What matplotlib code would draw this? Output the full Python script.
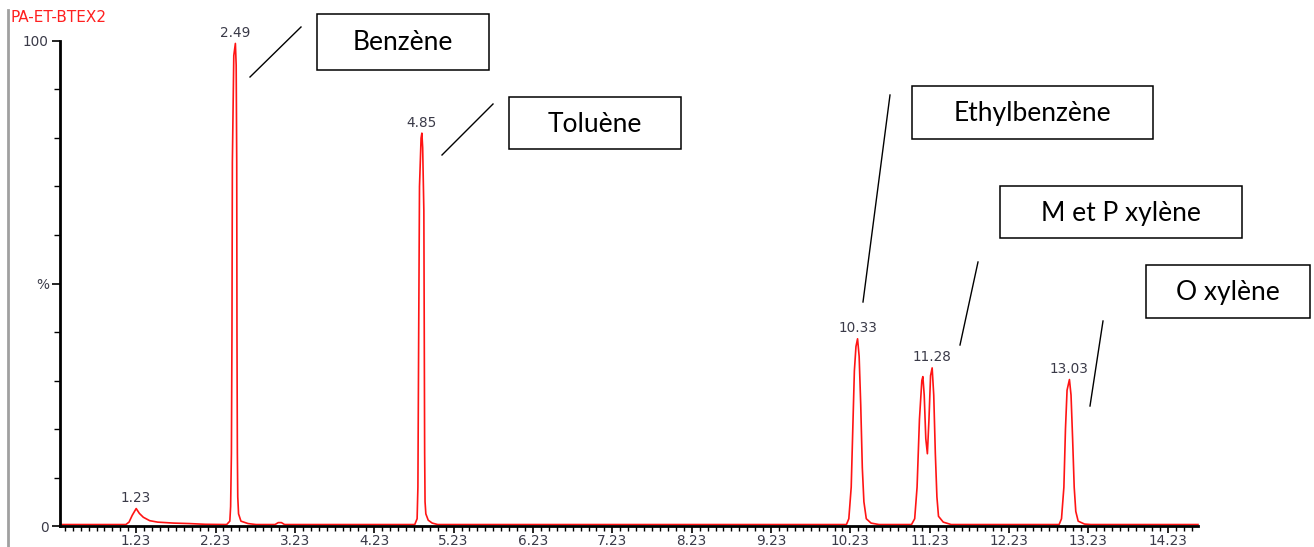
import matplotlib
matplotlib.use("Agg")
import matplotlib.pyplot as plt
from matplotlib.patches import Rectangle
from matplotlib.lines import Line2D
import numpy as np

# trace (retention time in min, intensity in %)
rt = [0.27, 1.10, 1.14, 1.18, 1.23, 1.27, 1.32, 1.40, 1.50, 1.70, 1.90, 2.10, 2.37,
      2.41, 2.42, 2.43, 2.437, 2.442, 2.46, 2.48, 2.49, 2.497, 2.50, 2.505, 2.51, 2.52, 2.55, 2.64, 2.74,
      2.98, 3.02, 3.06, 3.10,
      4.74, 4.77, 4.78, 4.79, 4.80, 4.82, 4.83, 4.84, 4.855, 4.86, 4.865, 4.87, 4.88, 4.91, 4.96, 5.03,
      10.18, 10.21, 10.24, 10.26, 10.28, 10.30, 10.32, 10.34, 10.36, 10.38, 10.40, 10.43, 10.49, 10.59,
      11.00, 11.04, 11.07, 11.10, 11.13, 11.143, 11.16, 11.18, 11.20, 11.22, 11.24, 11.26, 11.28, 11.30,
      11.32, 11.34, 11.40, 11.50,
      12.86, 12.89, 12.92, 12.94, 12.96, 12.99, 13.01, 13.03, 13.05, 13.07, 13.10, 13.18, 13.26, 14.61]
signal = [0.3, 0.3, 0.8, 2.2, 3.6, 2.6, 1.8, 1.1, 0.8, 0.6, 0.5, 0.35, 0.3,
          1.0, 4, 15, 40, 75, 97, 99.5, 95, 75, 40, 15, 6, 2.5, 1, 0.5, 0.3,
          0.3, 0.7, 0.7, 0.3,
          0.3, 1.5, 8, 40, 70, 80, 81, 78, 65, 40, 15, 5, 2.5, 1.2, 0.6, 0.3,
          0.3, 1.5, 8, 20, 32, 37, 38.6, 35, 25, 12, 5, 1.5, 0.6, 0.3,
          0.3, 1.5, 8, 22, 30, 30.8, 27, 18, 14.9, 22, 31, 32.6, 27, 15,
          6, 2, 0.8, 0.3,
          0.3, 1.5, 8, 20, 28, 30.2, 27, 18, 8, 3, 1, 0.4, 0.3, 0.3]

# apex labels printed by the data system
peak_labels = ["1.23", "2.49", "4.85", "10.33", "11.28", "13.03"]

compounds = ["Benzène", "Toluène", "Ethylbenzène", "M et P xylène", "O xylène"]

x_ticks = [1.23, 2.23, 3.23, 4.23, 5.23, 6.23, 7.23, 8.23, 9.23, 10.23, 11.23, 12.23, 13.23, 14.23]
y_ticks = [0, 50, 100]
y_ticklabels = ["0", "%", "100"]

W, H = 1314, 547
fig = plt.figure(figsize=(W / 100, H / 100), dpi=100)

def fx(px):
    return px / W

def fy(py):
    return 1 - py / H

ax = fig.add_axes([fx(60), fy(526), fx(1198) - fx(60), fy(41) - fy(526)])
ax.plot(rt, signal, color="#ff1414", lw=1.2, clip_on=False)
ax.set_xlim(0.27, 14.61)
ax.set_ylim(0, 100)

t_arr = np.array(rt)
s_arr = np.array(signal)
for lab in peak_labels:
    t = float(lab)
    win = np.abs(t_arr - t) < 0.06
    i = np.flatnonzero(win)[np.argmax(s_arr[win])]
    ax.annotate(lab, (t_arr[i], s_arr[i]), xytext=(0, 2.5), textcoords="offset points",
                ha="center", va="bottom", fontsize=9.8, color="#3a3a48",
                family="DejaVu Sans")

for s in ["top", "right"]:
    ax.spines[s].set_visible(False)
for s in ["left", "bottom"]:
    ax.spines[s].set_linewidth(2)
    ax.spines[s].set_color("black")

ax.set_xticks(x_ticks)
ax.set_xticklabels(["%.2f" % v for v in x_ticks])
ax.set_xticks(np.arange(0.33, 14.6, 0.1), minor=True)
ax.set_yticks(y_ticks)
ax.set_yticklabels(y_ticklabels)
ax.set_yticks(np.arange(10, 100, 10), minor=True)
ax.tick_params(axis="x", which="major", length=5, width=1.2, pad=0.5,
               labelsize=9.8, labelcolor="#3a3a48")
ax.tick_params(axis="x", which="minor", length=3.5, width=1.0)
ax.tick_params(axis="y", which="major", length=6, width=1.2, pad=2,
               labelsize=9.8, labelcolor="#3a3a48")
ax.tick_params(axis="y", which="minor", length=4, width=1.0)
for lab in ax.get_xticklabels() + ax.get_yticklabels():
    lab.set_family("DejaVu Sans")

# title of the trace and left border
fig.text(fx(10), fy(18), "PA-ET-BTEX2", color="#ff2020", fontsize=11,
         family="DejaVu Sans", ha="left", va="center")
fig.add_artist(Line2D([fx(8), fx(8)], [fy(10), fy(547)], color="#a0a0a0", lw=2))

# callout boxes (x0, y0, x1, y1 in pixels) and leader lines
boxes = [(317, 14, 489, 70), (509, 97, 681, 149), (912, 86, 1153, 139),
         (1000, 186, 1242, 238), (1146, 265, 1310, 318)]
leaders = [((250, 77), (301, 27)), ((442, 155), (493, 104)), ((863, 302), (890, 95)),
           ((960, 345), (978, 262)), ((1090, 406), (1103, 321))]
for name, (x0, y0, x1, y1), (p0, p1) in zip(compounds, boxes, leaders):
    fig.add_artist(Rectangle((fx(x0), fy(y1)), fx(x1) - fx(x0), fy(y0) - fy(y1),
                             transform=fig.transFigure, fill=False, ec="black", lw=1.1))
    fig.text(fx((x0 + x1) / 2), fy((y0 + y1) / 2 + 1), name, ha="center", va="center",
             fontsize=19, family="Lato", color="black")
    fig.add_artist(Line2D([fx(p0[0]), fx(p1[0])], [fy(p0[1]), fy(p1[1])],
                          color="black", lw=1))

fig.savefig("out.png", dpi=100)
